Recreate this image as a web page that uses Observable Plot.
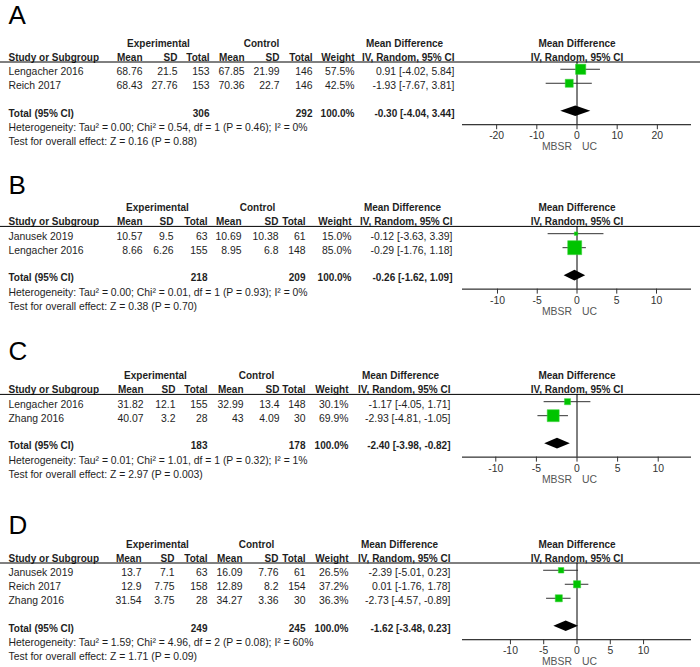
<!DOCTYPE html>
<html><head><meta charset="utf-8">
<script src="https://cdn.jsdelivr.net/npm/d3@7"></script>
<script src="https://cdn.jsdelivr.net/npm/@observablehq/plot@0.6"></script>
<style>
body{margin:0;background:#fff;}
#chart{width:700px;}
#chart svg{display:block;}
</style></head><body><div id="chart"></div>
<script>
// ---------- data ----------
const panelLabels = ["A", "B", "C", "D"];
const studyNames = [["Lengacher 2016", "Reich 2017"], ["Janusek 2019", "Lengacher 2016"], ["Lengacher 2016", "Zhang 2016"], ["Janusek 2019", "Reich 2017", "Zhang 2016"]];
const expMean = [[68.76, 68.43], [10.57, 8.66], [31.82, 40.07], [13.7, 12.9, 31.54]];
const expSD = [[21.5, 27.76], [9.5, 6.26], [12.1, 3.2], [7.1, 7.75, 3.75]];
const expTotal = [[153, 153], [63, 155], [155, 28], [63, 158, 28]];
const ctlMean = [[67.85, 70.36], [10.69, 8.95], [32.99, 43], [16.09, 12.89, 34.27]];
const ctlSD = [[21.99, 22.7], [10.38, 6.8], [13.4, 4.09], [7.76, 8.2, 3.36]];
const ctlTotal = [[146, 146], [61, 148], [148, 30], [61, 154, 30]];
const weight = [[57.5, 42.5], [15.0, 85.0], [30.1, 69.9], [26.5, 37.2, 36.3]];
const md = [[0.91, -1.93], [-0.12, -0.29], [-1.17, -2.93], [-2.39, 0.01, -2.73]];
const mdLow = [[-4.02, -7.67], [-3.63, -1.76], [-4.05, -4.81], [-5.01, -1.76, -4.57]];
const mdHigh = [[5.84, 3.81], [3.39, 1.18], [1.71, -1.05], [0.23, 1.78, -0.89]];
const totalExp = [306, 218, 183, 249];
const totalCtl = [292, 209, 178, 245];
const totalWeight = [100.0, 100.0, 100.0, 100.0];
const totalMD = [-0.30, -0.26, -2.40, -1.62];
const totalLow = [-4.04, -1.62, -3.98, -3.48];
const totalHigh = [3.44, 1.09, -0.82, 0.23];
const heterogeneity = [
  "Heterogeneity: Tau² = 0.00; Chi² = 0.54, df = 1 (P = 0.46); I² = 0%",
  "Heterogeneity: Tau² = 0.00; Chi² = 0.01, df = 1 (P = 0.93); I² = 0%",
  "Heterogeneity: Tau² = 0.01; Chi² = 1.01, df = 1 (P = 0.32); I² = 1%",
  "Heterogeneity: Tau² = 1.59; Chi² = 4.96, df = 2 (P = 0.08); I² = 60%"
];
const overallTest = [
  "Test for overall effect: Z = 0.16 (P = 0.88)",
  "Test for overall effect: Z = 0.38 (P = 0.70)",
  "Test for overall effect: Z = 2.97 (P = 0.003)",
  "Test for overall effect: Z = 1.71 (P = 0.09)"
];
const axisTicks = [[-20, -10, 0, 10, 20], [-10, -5, 0, 5, 10], [-10, -5, 0, 5, 10], [-10, -5, 0, 5, 10]];
const axisLimit = [28.5, 14.4, 14.1, 17.2];
const favoursLeft = "MBSR";
const favoursRight = "UC";

// ---------- layout ----------
const W = 700, ML = 462, MR = 9, ROW = 14;
const panelHeight = [165, 165, 170, 167];
const firstRowY = [43.3, 42.7, 45.7, 44.3];
const letterRow = [-1.98, -1.62, -1.76, -1.38];
const colLayout = [
  {study: 8, eMean: 142, eSD: 177, eTotal: 209, cMean: 244, cSD: 279, cTotal: 312, weight: 354, md: 454, expHead: 158, ctlHead: 261, mdHead: 404},
  {study: 8, eMean: 142, eSD: 173, eTotal: 207, cMean: 241, cSD: 278, cTotal: 305, weight: 351, md: 452, expHead: 157, ctlHead: 257, mdHead: 402},
  {study: 8, eMean: 143, eSD: 175, eTotal: 207, cMean: 243, cSD: 279, cTotal: 305, weight: 348, md: 450, expHead: 155, ctlHead: 256, mdHead: 400},
  {study: 8, eMean: 141, eSD: 174, eTotal: 207, cMean: 242, cSD: 278, cTotal: 305, weight: 348, md: 450, expHead: 157, ctlHead: 256, mdHead: 399}
];
const HEAD_LINE = 1.3, AXIS_GAP = 0.78, MARK_SHIFT = -0.18, DIAMOND_HALF = 0.38;
const TEXT = "#1e1e1e", GREEN = "#00c400", FONT = "'Liberation Sans', Arial, sans-serif";
const FS = 10.4, FSB = 10;

const fmt2 = v => v.toFixed(2);
const ci = (m, lo, hi) => `${fmt2(m)} [${fmt2(lo)}, ${fmt2(hi)}]`;

function panel(i) {
  const C = colLayout[i];
  const k = studyNames[i].length;
  const totalRow = k + 3;
  const axisRow = totalRow + AXIS_GAP;
  const H = panelHeight[i];
  const top = firstRowY[i] + ROW * HEAD_LINE;
  const bottom = H - (firstRowY[i] + ROW * axisRow);

  const cells = [];
  const add = (row, text, x, anchor, bold) => cells.push({row, text: String(text), x, anchor, bold});
  add(0, "Experimental", C.expHead, "middle", true);
  add(0, "Control", C.ctlHead, "middle", true);
  add(0, "Mean Difference", C.mdHead, "middle", true);
  add(1, "Study or Subgroup", C.study, "start", true);
  add(1, "Mean", C.eMean, "end", true);
  add(1, "SD", C.eSD, "end", true);
  add(1, "Total", C.eTotal, "end", true);
  add(1, "Mean", C.cMean, "end", true);
  add(1, "SD", C.cSD, "end", true);
  add(1, "Total", C.cTotal, "end", true);
  add(1, "Weight", C.weight, "end", true);
  add(1, "IV, Random, 95% CI", C.md, "end", true);
  studyNames[i].forEach((s, j) => {
    const r = 2 + j;
    add(r, s, C.study, "start", false);
    add(r, expMean[i][j], C.eMean, "end", false);
    add(r, expSD[i][j], C.eSD, "end", false);
    add(r, expTotal[i][j], C.eTotal, "end", false);
    add(r, ctlMean[i][j], C.cMean, "end", false);
    add(r, ctlSD[i][j], C.cSD, "end", false);
    add(r, ctlTotal[i][j], C.cTotal, "end", false);
    add(r, weight[i][j].toFixed(1) + "%", C.weight, "end", false);
    add(r, ci(md[i][j], mdLow[i][j], mdHigh[i][j]), C.md, "end", false);
  });
  add(totalRow, "Total (95% CI)", C.study, "start", true);
  add(totalRow, totalExp[i], C.eTotal, "end", true);
  add(totalRow, totalCtl[i], C.cTotal, "end", true);
  add(totalRow, totalWeight[i].toFixed(1) + "%", C.weight, "end", true);
  add(totalRow, ci(totalMD[i], totalLow[i], totalHigh[i]), C.md, "end", true);
  add(totalRow + 1, heterogeneity[i], C.study, "start", false);
  add(totalRow + 2, overallTest[i], C.study, "start", false);

  const groups = d3.groups(cells, c => `${c.x}|${c.anchor}|${c.bold}`);
  const tableMarks = groups.map(([, g]) => Plot.text(g, {
    y: "row", text: "text", frameAnchor: "left", dx: g[0].x - ML,
    textAnchor: g[0].anchor, lineAnchor: "middle",
    fontWeight: g[0].bold ? "bold" : "normal", fontSize: g[0].bold ? FSB : FS, fill: TEXT
  }));

  const studies = studyNames[i].map((s, j) => ({row: 2 + j + MARK_SHIFT, md: md[i][j], lo: mdLow[i][j], hi: mdHigh[i][j], w: weight[i][j]}));
  const tr = totalRow + MARK_SHIFT;
  const diamond = [
    {x: totalLow[i], y1: tr, y2: tr},
    {x: totalMD[i], y1: tr - DIAMOND_HALF, y2: tr + DIAMOND_HALF},
    {x: totalHigh[i], y1: tr, y2: tr}
  ];

  return Plot.plot({
    width: W, height: H,
    marginLeft: ML, marginRight: MR, marginTop: top, marginBottom: bottom,
    x: {domain: [-axisLimit[i], axisLimit[i]]},
    y: {domain: [HEAD_LINE, axisRow], reverse: true, axis: null},
    r: {type: "pow", exponent: 0.8, domain: [0, 100], range: [0, 9]},
    style: {fontFamily: FONT, fontSize: FS + "px", background: "#fff", overflow: "visible", color: TEXT},
    marks: [
      Plot.text([panelLabels[i]], {text: d => d, y: letterRow[i], frameAnchor: "left", dx: 8 - ML, textAnchor: "start", lineAnchor: "middle", fontSize: 26, fontFamily: FONT, fill: "#000"}),
      ...tableMarks,
      Plot.text(["Mean Difference"], {text: d => d, x: 0, y: 0, fontWeight: "bold", fontSize: FSB, fill: TEXT, lineAnchor: "middle"}),
      Plot.text(["IV, Random, 95% CI"], {text: d => d, x: 0, y: 1, fontWeight: "bold", fontSize: FSB, fill: TEXT, lineAnchor: "middle"}),
      Plot.ruleY([HEAD_LINE], {stroke: "#000", insetLeft: -ML, insetRight: -MR}),
      Plot.ruleX([0], {stroke: "#000"}),
      Plot.ruleY([axisRow], {stroke: "#000"}),
      Plot.axisX({ticks: axisTicks[i], anchor: "bottom", tickSize: 5, tickPadding: 2, tickFormat: d => String(d), fontSize: FS, color: "#333"}),
      Plot.text([favoursLeft], {text: d => d, x: 0, y: axisRow + 1.6, dx: -5, textAnchor: "end", fontSize: FS, fill: "#555", lineAnchor: "middle"}),
      Plot.text([favoursRight], {text: d => d, x: 0, y: axisRow + 1.6, dx: 5, textAnchor: "start", fontSize: FS, fill: "#555", lineAnchor: "middle"}),
      Plot.ruleY(studies, {y: "row", x1: "lo", x2: "hi", stroke: "#333", strokeWidth: 1}),
      Plot.dot(studies, {x: "md", y: "row", r: "w", symbol: "square", fill: GREEN, stroke: "#3bd43b", strokeWidth: 0.5}),
      Plot.areaY(diamond, {x: "x", y1: "y1", y2: "y2", fill: "#000"})
    ]
  });
}

const chart = document.getElementById("chart");
panelLabels.forEach((_, i) => chart.appendChild(panel(i)));
</script></body></html>
